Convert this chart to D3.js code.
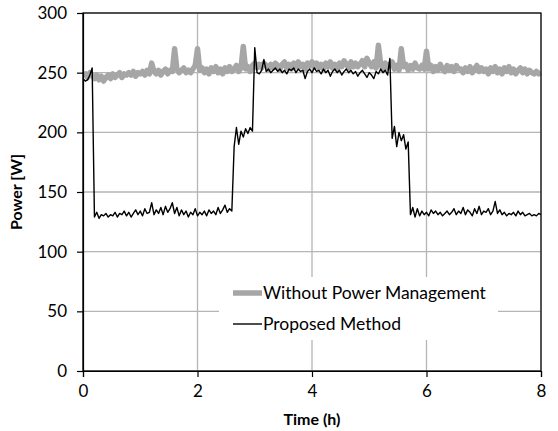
<!DOCTYPE html>
<html>
<head>
<meta charset="utf-8">
<script src="https://cdn.jsdelivr.net/npm/d3@7"></script>
<style>
  body { margin: 0; background: #fff; }
  text { font-family: "Lato", "Open Sans", sans-serif; }
</style>
</head>
<body>
<div id="chart"></div>
<script>
// sampling step of both series, in hours (0.00 .. 8.00)
const stepHours = 0.04;

// Without Power Management [W], one row per hour (25 samples), last value at 8.00 h
const withoutPM = [
  248,249,246,250,248, 245,248,244,247,243, 246,248,245,249,246, 248,250,246,249,248, 250,248,251,247,250,
  249,251,248,252,249, 258,251,249,252,248, 251,253,249,252,251, 270,253,250,252,254, 250,252,250,253,256,
  270,252,254,250,253, 249,254,251,255,250, 253,249,254,251,255, 251,253,256,251,254, 272,253,255,251,256,
  258,254,257,254,258, 256,253,257,254,258, 256,253,257,259,254, 257,253,258,255,259, 255,257,253,258,256,
  259,255,258,254,257, 253,258,255,259,254, 257,253,258,255,260, 257,254,259,255,258, 255,257,260,255,262,
  258,255,259,254,273, 257,253,258,254,257, 259,253,256,252,270, 255,257,252,256,253, 258,254,253,256,253,
  268,253,256,251,255, 252,257,253,251,256, 252,255,251,256,253, 253,250,254,251,255, 250,253,256,251,254,
  251,253,249,254,251, 255,250,253,249,254, 251,255,250,253,249, 252,254,250,253,249, 252,250,249,251,249,
  250
];

// Proposed Method [W], same sampling
const proposed = [
  245,243,244,248,254, 129,133,128,131,130, 132,129,131,130,133, 129,132,131,134,130, 133,129,132,135,131,
  134,130,136,132,133, 141,131,135,132,137, 131,138,133,136,141, 132,137,130,135,131, 134,129,133,131,136,
  130,133,131,134,130, 135,132,134,131,137, 132,135,139,133,136, 134,188,204,190,201, 196,203,199,204,201,
  271,250,249,252,261, 251,253,250,252,254, 251,253,250,252,249, 253,252,254,250,253, 251,252,245,251,253,
  250,254,251,252,249, 253,250,252,247,251, 253,250,252,248,251, 253,250,252,249,251, 247,250,252,249,246,
  250,248,245,251,249, 253,250,252,248,262, 195,205,188,200,193, 198,186,192,131,137, 129,136,130,134,131,
  133,130,135,132,134, 131,133,130,132,134, 131,133,136,131,134, 132,137,131,135,133, 130,136,132,138,131,
  134,133,136,131,134, 142,132,135,131,133, 130,132,131,133,130, 134,131,133,130,131, 132,130,131,130,132,
  131
];

const xTicks = [0, 2, 4, 6, 8];
const yTicks = [0, 50, 100, 150, 200, 250, 300];
const seriesNames = ["Without Power Management", "Proposed Method"];

const margin = { top: 13, right: 17, bottom: 60, left: 83 },
    width = 558 - margin.left - margin.right,
    height = 431 - margin.top - margin.bottom;

const svg = d3.select("#chart")
  .append("svg")
    .attr("width", 558)
    .attr("height", 431)
  .append("g")
    .attr("transform", `translate(${margin.left},${margin.top})`);

const x = d3.scaleLinear().domain([0, 8]).range([0, width]);
const y = d3.scaleLinear().domain([0, 300]).range([height, 0]);

// grid
svg.append("g")
  .selectAll("line")
  .data(yTicks)
  .join("line")
    .attr("x1", 0).attr("x2", width)
    .attr("y1", d => y(d)).attr("y2", d => y(d))
    .attr("stroke", "#b5b5b5").attr("stroke-width", 1.3);
svg.append("g")
  .selectAll("line")
  .data(xTicks)
  .join("line")
    .attr("x1", d => x(d)).attr("x2", d => x(d))
    .attr("y1", 0).attr("y2", height)
    .attr("stroke", "#b5b5b5").attr("stroke-width", 1.3);

// lines
const line = d3.line()
  .x((d, i) => x(i * stepHours))
  .y(d => y(d));

svg.append("path")
  .datum(withoutPM)
  .attr("d", line)
  .attr("fill", "none")
  .attr("stroke", "#a6a6a6")
  .attr("stroke-width", 5.5)
  .attr("stroke-linejoin", "round");

svg.append("path")
  .datum(proposed)
  .attr("d", line)
  .attr("fill", "none")
  .attr("stroke", "#000")
  .attr("stroke-width", 1.4)
  .attr("stroke-linejoin", "round");

// plot border
svg.append("rect")
  .attr("width", width).attr("height", height)
  .attr("fill", "none").attr("stroke", "#000").attr("stroke-width", 1.2);

// axes
const xAxis = svg.append("g")
  .attr("transform", `translate(0, ${height})`)
  .call(d3.axisBottom(x).tickValues(xTicks).tickSize(6).tickPadding(8).tickFormat(d3.format("d")));
const yAxis = svg.append("g")
  .call(d3.axisLeft(y).tickValues(yTicks).tickSize(6).tickPadding(10).tickFormat(d3.format("d")));
[xAxis, yAxis].forEach(a => {
  a.select(".domain").attr("stroke", "#000").attr("stroke-width", 1.2);
  a.selectAll(".tick line").attr("stroke", "#000").attr("stroke-width", 1.2);
  a.selectAll("text").attr("fill", "#000").style("font-size", "17px").style("font-family", "Lato, 'Open Sans', sans-serif");
});

// axis titles
svg.append("text")
  .attr("x", width / 2).attr("y", height + 54)
  .attr("text-anchor", "middle")
  .style("font-size", "16px").style("font-weight", "bold")
  .text("Time (h)");
svg.append("text")
  .attr("transform", `translate(${-61},${height / 2}) rotate(-90)`)
  .attr("text-anchor", "middle")
  .style("font-size", "16px").style("font-weight", "bold")
  .text("Power [W]");

// legend
const legend = svg.append("g").attr("transform", "translate(136, 264)");
legend.append("rect")
  .attr("width", 279).attr("height", 63)
  .attr("fill", "#fff");
const styles = [{ c: "#a6a6a6", w: 5.5 }, { c: "#000", w: 1.4 }];
seriesNames.forEach((name, i) => {
  const g = legend.append("g").attr("transform", `translate(14, ${16 + i * 31})`);
  g.append("line").attr("x1", 0).attr("x2", 29)
    .attr("stroke", styles[i].c).attr("stroke-width", styles[i].w);
  g.append("text").attr("x", 30).attr("dy", "0.35em")
    .style("font-size", "17.5px").text(name);
});
</script>
</body>
</html>
